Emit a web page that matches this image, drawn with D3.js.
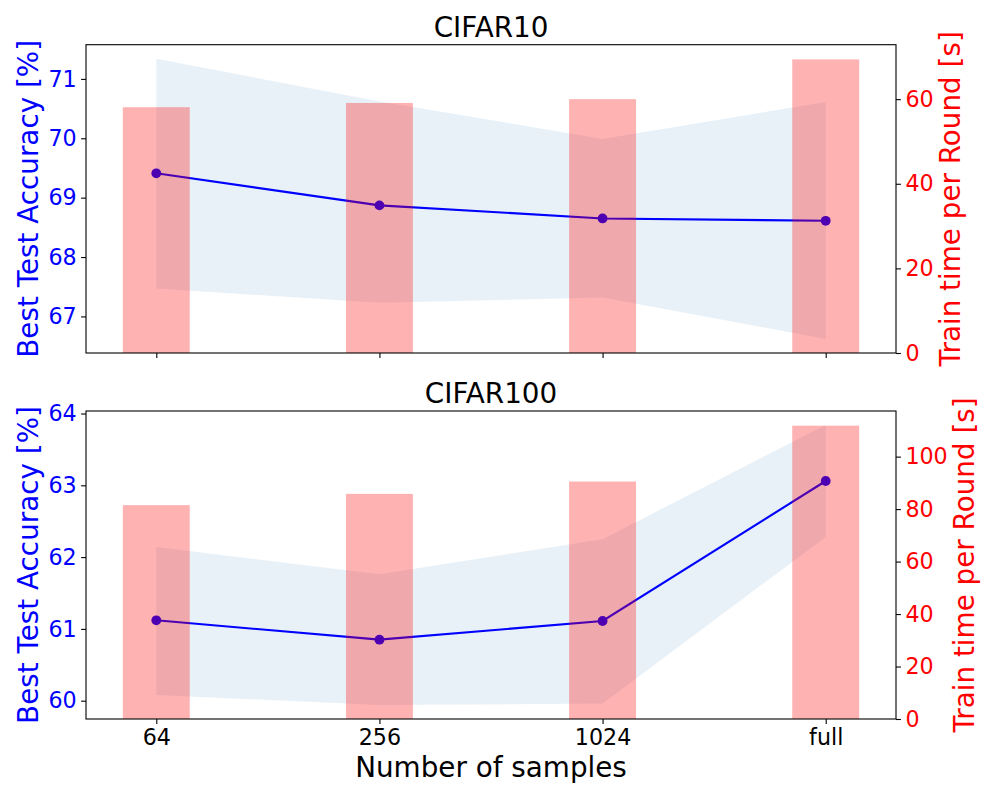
<!DOCTYPE html>
<html>
<head>
<meta charset="utf-8">
<script src="https://cdn.jsdelivr.net/npm/d3@7"></script>
<style>
  body { margin: 0; background: #fff; }
  svg { font-family: "DejaVu Sans", sans-serif; }
</style>
</head>
<body>
<svg id="chart" width="997" height="797"></svg>
<script>
/* values */
var categories = ["64", "256", "1024", "full"];

var c10Acc   = [69.41, 68.87, 68.65, 68.61];
var c10Upper = [71.34, 70.62, 69.99, 70.61];
var c10Lower = [67.47, 67.23, 67.32, 66.62];
var c10Time  = [58.1, 59.1, 60.0, 69.4];

var c100Acc   = [61.12, 60.85, 61.11, 63.06];
var c100Upper = [62.14, 61.76, 62.25, 63.84];
var c100Lower = [60.08, 59.94, 59.96, 62.28];
var c100Time  = [81.5, 85.8, 90.5, 111.8];

var svg = d3.select("#chart");
var left = 86, right = 896;
var barWidth = 0.3;
var tickFont = "22.2px", labelFont = "27.8px";

// matplotlib style x limits: bars span [-0.15, 3.15] plus 5% margin
var x = d3.scaleLinear()
  .domain([-0.15 - 0.165, 3.15 + 0.165])
  .range([left, right]);

function margin(lo, hi) {
  var r = hi - lo;
  return [lo - 0.05 * r, hi + 0.05 * r];
}

function styleAxis(ax, color) {
  ax.select(".domain").remove();
  ax.selectAll("line").attr("stroke", "#000").attr("stroke-width", 1.1);
  ax.selectAll("text").attr("fill", color).style("font-size", tickFont)
    .style("font-family", "DejaVu Sans");
}

function drawPanel(title, acc, upper, lower, time, top, bottom, showXLabels) {
  var g = svg.append("g");

  var y = d3.scaleLinear()
    .domain(margin(d3.min(lower), d3.max(upper)))
    .range([bottom, top]);
  var y2 = d3.scaleLinear()
    .domain([0, d3.max(time) * 1.05])
    .range([bottom, top]);

  var idx = d3.range(categories.length);

  // std band
  var area = d3.area()
    .x(function(i){ return x(i); })
    .y0(function(i){ return y(lower[i]); })
    .y1(function(i){ return y(upper[i]); });
  g.append("path").datum(idx)
    .attr("d", area)
    .attr("fill", "#1f77b4")
    .attr("fill-opacity", 0.1);

  // accuracy line
  var line = d3.line()
    .x(function(i){ return x(i); })
    .y(function(i){ return y(acc[i]); });
  g.append("path").datum(idx)
    .attr("d", line)
    .attr("fill", "none")
    .attr("stroke", "#0000ff")
    .attr("stroke-width", 2.1);

  g.selectAll(".dot").data(idx).enter().append("circle")
    .attr("cx", function(i){ return x(i); })
    .attr("cy", function(i){ return y(acc[i]); })
    .attr("r", 4.9)
    .attr("fill", "#0000ff");

  // train time bars (twin axis, drawn on top)
  g.selectAll(".bar").data(idx).enter().append("rect")
    .attr("x", function(i){ return x(i - barWidth / 2); })
    .attr("width", x(barWidth) - x(0))
    .attr("y", function(i){ return y2(time[i]); })
    .attr("height", function(i){ return bottom - y2(time[i]); })
    .attr("fill", "#ff0000")
    .attr("fill-opacity", 0.3);

  // spines
  g.append("rect")
    .attr("x", left).attr("y", top)
    .attr("width", right - left).attr("height", bottom - top)
    .attr("fill", "none")
    .attr("stroke", "#000")
    .attr("stroke-width", 1.1);

  var ax1 = g.append("g").attr("transform", "translate(" + left + ",0)")
    .call(d3.axisLeft(y).ticks(5).tickSize(4.9).tickPadding(4.5).tickFormat(d3.format("d")));
  styleAxis(ax1, "#0000ff");

  var ax2 = g.append("g").attr("transform", "translate(" + right + ",0)")
    .call(d3.axisRight(y2).ticks(5).tickSize(4.9).tickPadding(4.5).tickFormat(d3.format("d")));
  styleAxis(ax2, "#ff0000");

  var ax3 = g.append("g").attr("transform", "translate(0," + bottom + ")")
    .call(d3.axisBottom(x).tickValues(idx).tickSize(4.9).tickPadding(5)
      .tickFormat(function(i){ return showXLabels ? categories[i] : ""; }));
  styleAxis(ax3, "#000");

  // title and axis labels
  g.append("text")
    .attr("x", (left + right) / 2).attr("y", top - 8)
    .attr("text-anchor", "middle")
    .style("font-size", labelFont)
    .text(title);

  var mid = (top + bottom) / 2;
  g.append("text")
    .attr("transform", "translate(37.5," + mid + ") rotate(-90)")
    .attr("text-anchor", "middle")
    .attr("fill", "#0000ff")
    .style("font-size", labelFont)
    .text("Best Test Accuracy [%]");

  // right label sits past the widest tick label, like matplotlib does
  var tickRight = right + d3.max(ax2.selectAll("text").nodes(), function(n){
    var b = n.getBBox();
    return 4.9 + 4.5 + b.width;
  });
  var labelX = tickRight + 5.6 + 21.1;
  g.append("text")
    .attr("transform", "translate(" + labelX + "," + mid + ") rotate(-90)")
    .attr("text-anchor", "middle")
    .attr("fill", "#ff0000")
    .style("font-size", labelFont)
    .text("Train time per Round [s]");
}

drawPanel("CIFAR10", c10Acc, c10Upper, c10Lower, c10Time, 44.7, 353, false);
drawPanel("CIFAR100", c100Acc, c100Upper, c100Lower, c100Time, 411, 719, true);

svg.append("text")
  .attr("x", (left + right) / 2).attr("y", 777)
  .attr("text-anchor", "middle")
  .style("font-size", labelFont)
  .text("Number of samples");
</script>
</body>
</html>
